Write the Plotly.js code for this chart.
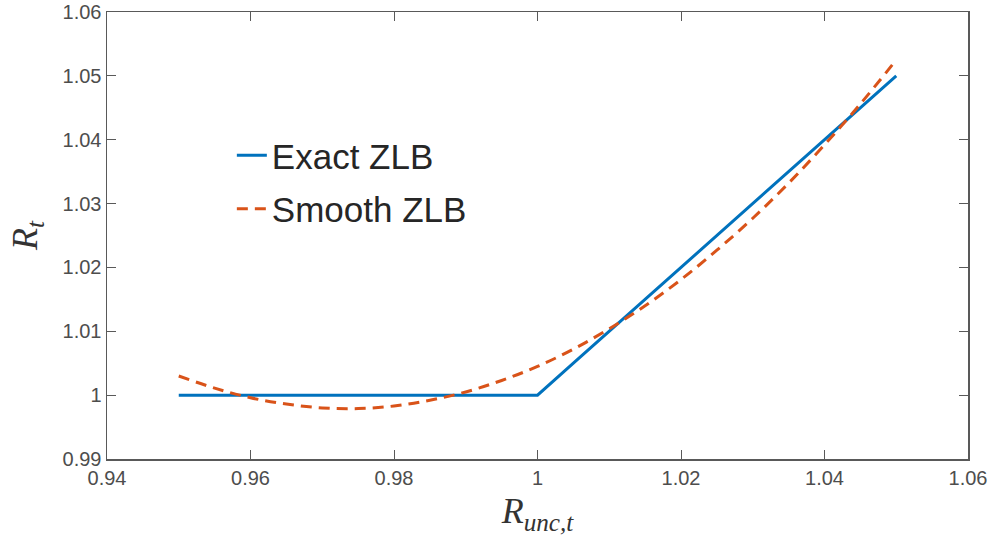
<!DOCTYPE html>
<html>
<head>
<meta charset="utf-8">
<script src="https://cdn.plot.ly/plotly-3.0.1.min.js"></script>
<style>
  html, body { margin: 0; padding: 0; background: #fff; }
  #chart { width: 994px; height: 543px; }
</style>
</head>
<body>
<div id="chart"></div>
<script>
// Unconstrained policy rate on the horizontal axis
const rUnc = [0.95, 0.955, 0.96, 0.965, 0.97, 0.975, 0.98, 0.985, 0.99, 0.995,
              1.0, 1.005, 1.01, 1.015, 1.02, 1.025, 1.03, 1.035, 1.04, 1.045, 1.05];

// Exact zero lower bound: R_t = max(R_unc,t, 1)
const exactZLB = [1.0, 1.0, 1.0, 1.0, 1.0, 1.0, 1.0, 1.0, 1.0, 1.0,
                  1.0, 1.005, 1.01, 1.015, 1.02, 1.025, 1.03, 1.035, 1.04, 1.045, 1.05];

// Smooth approximation of the bound
const smoothZLB = [1.0030, 1.0011, 0.9996, 0.9986, 0.9980, 0.9979, 0.9983, 0.9992, 1.0005, 1.0023,
                   1.0045, 1.0072, 1.0104, 1.0140, 1.0181, 1.0227, 1.0277, 1.0332, 1.0392, 1.0456, 1.0525];

const xTicks = [0.94, 0.96, 0.98, 1, 1.02, 1.04, 1.06];
const xTickText = ['0.94', '0.96', '0.98', '1', '1.02', '1.04', '1.06'];
const yTicks = [0.99, 1, 1.01, 1.02, 1.03, 1.04, 1.05, 1.06];
const yTickText = ['0.99', '1', '1.01', '1.02', '1.03', '1.04', '1.05', '1.06'];

const axisColor = '#595959';
const tickFont = { family: 'Liberation Sans, Arial, sans-serif', size: 20, color: '#4d4d4d' };
const titleFont = { family: 'Liberation Serif, Times New Roman, serif', size: 36, color: '#333333' };

const traces = [
  {
    x: rUnc, y: exactZLB, type: 'scatter', mode: 'lines',
    name: 'Exact ZLB', legendgroup: 'a',
    line: { color: '#0072BD', width: 3 }
  },
  {
    x: rUnc, y: smoothZLB, type: 'scatter', mode: 'lines',
    name: 'Smooth ZLB', legendgroup: 'b',
    line: { color: '#D95319', width: 3, dash: '11px,7px', shape: 'spline' }
  }
];

const commonAxis = {
  showgrid: false, zeroline: false,
  showline: true, mirror: 'ticks', linecolor: axisColor, linewidth: 1.5,
  ticks: 'inside', ticklen: 9, tickwidth: 1, tickcolor: axisColor,
  tickfont: tickFont
};

const layout = {
  width: 994, height: 543,
  margin: { l: 107, r: 26, t: 12, b: 84 },
  paper_bgcolor: '#ffffff', plot_bgcolor: '#ffffff',
  showlegend: true,
  legend: {
    x: 0.145, y: 0.745, xanchor: 'left', yanchor: 'top',
    bgcolor: 'rgba(255,255,255,0)', borderwidth: 0,
    font: { family: 'Liberation Sans, Arial, sans-serif', size: 35, color: '#262626' },
    tracegroupgap: 5, traceorder: 'grouped', itemwidth: 30
  },
  xaxis: Object.assign({}, commonAxis, {
    range: [0.94, 1.06],
    tickvals: xTicks, ticktext: xTickText,
    title: { text: '<i>R</i><sub><i>unc,t</i></sub>', font: titleFont, standoff: 10 }
  }),
  yaxis: Object.assign({}, commonAxis, {
    range: [0.99, 1.06],
    tickvals: yTicks, ticktext: yTickText,
    title: { text: '<i>R</i><sub><i>t</i></sub>', font: titleFont, standoff: 14 }
  })
};

Plotly.newPlot('chart', traces, layout, { displayModeBar: false, staticPlot: true });
</script>
</body>
</html>
